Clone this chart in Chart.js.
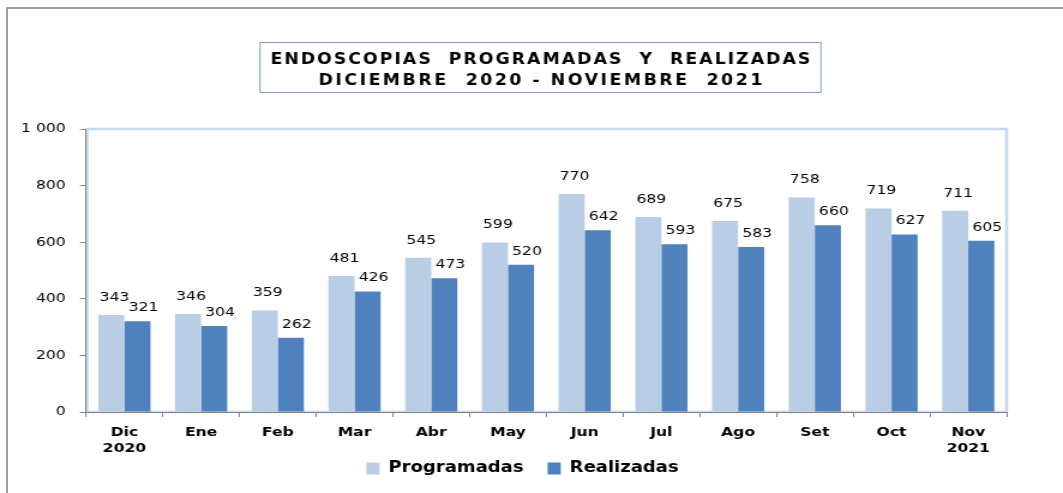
<!DOCTYPE html>
<html>
<head>
<meta charset="utf-8">
<script src="https://cdn.jsdelivr.net/npm/chart.js@4"></script>
<style>
  body { margin: 0; background: #fff; overflow: hidden; }
  #frame { position: absolute; left: 6px; top: 7px; width: 1200px; height: 700px;
           border-left: 2px solid #a0a0a0; border-top: 2px solid #a0a0a0; }
  /* the original picture is stretched sideways, so the canvas is too */
  #chart { position: absolute; left: 0; top: 0; transform: scaleX(1.19977); transform-origin: 0 0; }
</style>
</head>
<body>
<div id="frame"></div>
<canvas id="chart" width="886" height="493"></canvas>
<script>
// --- Data ---
const categories = [['Dic', '2020'], 'Ene', 'Feb', 'Mar', 'Abr', 'May', 'Jun', 'Jul', 'Ago', 'Set', 'Oct', ['Nov', '2021']];
const programadas = [343, 346, 359, 481, 545, 599, 770, 689, 675, 758, 719, 711];
const realizadas = [321, 304, 262, 426, 473, 520, 642, 593, 583, 660, 627, 605];
const seriesNames = ['Programadas', 'Realizadas'];
const titleLines = ['ENDOSCOPIAS  PROGRAMADAS  Y  REALIZADAS', 'DICIEMBRE  2020 - NOVIEMBRE  2021'];
const yMin = 0, yMax = 1000, yStep = 200;

const FONT = "'DejaVu Sans', Verdana, sans-serif";

// light blue frame round the plot area (drawn before the axes so they sit on top)
const plotFrame = {
    id: 'plotFrame',
    beforeDraw(chart) {
        const { ctx, chartArea: a } = chart;
        ctx.save();
        ctx.strokeStyle = '#c6d9f1';
        ctx.lineWidth = 2.5;
        ctx.strokeRect(a.left + 1, a.top, a.right - a.left - 1, a.bottom - a.top);
        ctx.restore();
    }
};

// move the legend up under the axis labels and a bit to the right
const legendNudge = {
    id: 'legendNudge',
    afterLayout(chart) {
        const lg = chart.legend;
        lg.top -= 17; lg.bottom -= 17;
        lg.left += 16; lg.right += 16;
    }
};

// value labels over the bars
const barValues = {
    id: 'barValues',
    afterDatasetsDraw(chart) {
        const ctx = chart.ctx;
        const lift = [11, 7];
        const shift = [2.5, 5];
        ctx.save();
        ctx.font = '13px ' + FONT;
        ctx.fillStyle = '#000';
        ctx.textAlign = 'center';
        ctx.textBaseline = 'bottom';
        chart.data.datasets.forEach((ds, i) => {
            chart.getDatasetMeta(i).data.forEach((bar, j) => {
                ctx.fillText(ds.data[j], bar.x + shift[i], bar.y - lift[i]);
            });
        });
        ctx.restore();
    }
};

// boxed two-line title
const titleBox = {
    id: 'titleBox',
    afterDraw(chart) {
        const ctx = chart.ctx;
        const widths = [450, 370];
        const ys = [60, 80.5];
        const cx = 450.4;
        ctx.save();
        ctx.strokeStyle = '#7f9ccb';
        ctx.lineWidth = 1;
        ctx.strokeRect(216.7, 42.5, 467.5, 50);
        ctx.font = "bold 16px 'DejaVu Sans Condensed', 'Liberation Sans', sans-serif";
        ctx.fillStyle = '#000';
        ctx.textAlign = 'center';
        ctx.textBaseline = 'middle';
        titleLines.forEach((t, i) => {
            ctx.letterSpacing = '0px';
            const w = ctx.measureText(t).width;
            const ls = (widths[i] - w) / (t.length - 1);
            ctx.letterSpacing = ls + 'px';
            ctx.fillText(t, cx + ls / 2, ys[i]);
        });
        ctx.restore();
    }
};

new Chart(document.getElementById('chart'), {
    type: 'bar',
    data: {
        labels: categories,
        datasets: [
            { label: seriesNames[0], data: programadas, backgroundColor: '#b9cde5', borderWidth: 0 },
            { label: seriesNames[1], data: realizadas, backgroundColor: '#4f81bd', borderWidth: 0 }
        ]
    },
    options: {
        responsive: false,
        animation: false,
        devicePixelRatio: 1,
        layout: { padding: { left: 0, right: 47, top: 129, bottom: 0 } },
        datasets: { bar: { barPercentage: 1, categoryPercentage: 0.68 } },
        scales: {
            x: {
                afterFit: s => { s.height = 46; },
                grid: { drawOnChartArea: false, tickLength: 5, color: '#868686' },
                border: { color: '#868686' },
                ticks: {
                    color: '#000', padding: 7, maxRotation: 0, autoSkip: false,
                    font: { family: FONT, size: 13, weight: 'bold', lineHeight: 1.27 }
                }
            },
            y: {
                min: yMin, max: yMax,
                afterFit: s => { s.width = 71.7; },
                grid: { drawOnChartArea: false, tickLength: 5, color: '#868686' },
                border: { color: '#868686' },
                ticks: {
                    stepSize: yStep, color: '#000', padding: 12,
                    font: { family: FONT, size: 13 },
                    callback: v => String(v).replace(/\B(?=(\d{3})+(?!\d))/g, ' ')
                }
            }
        },
        plugins: {
            tooltip: { enabled: false },
            title: { display: false },
            legend: {
                position: 'bottom',
                maxHeight: 35,
                labels: {
                    color: '#000', boxWidth: 11, boxHeight: 12, padding: 20,
                    font: { family: FONT, size: 15, weight: 'bold' }
                }
            }
        }
    },
    plugins: [plotFrame, legendNudge, barValues, titleBox]
});
</script>
</body>
</html>
